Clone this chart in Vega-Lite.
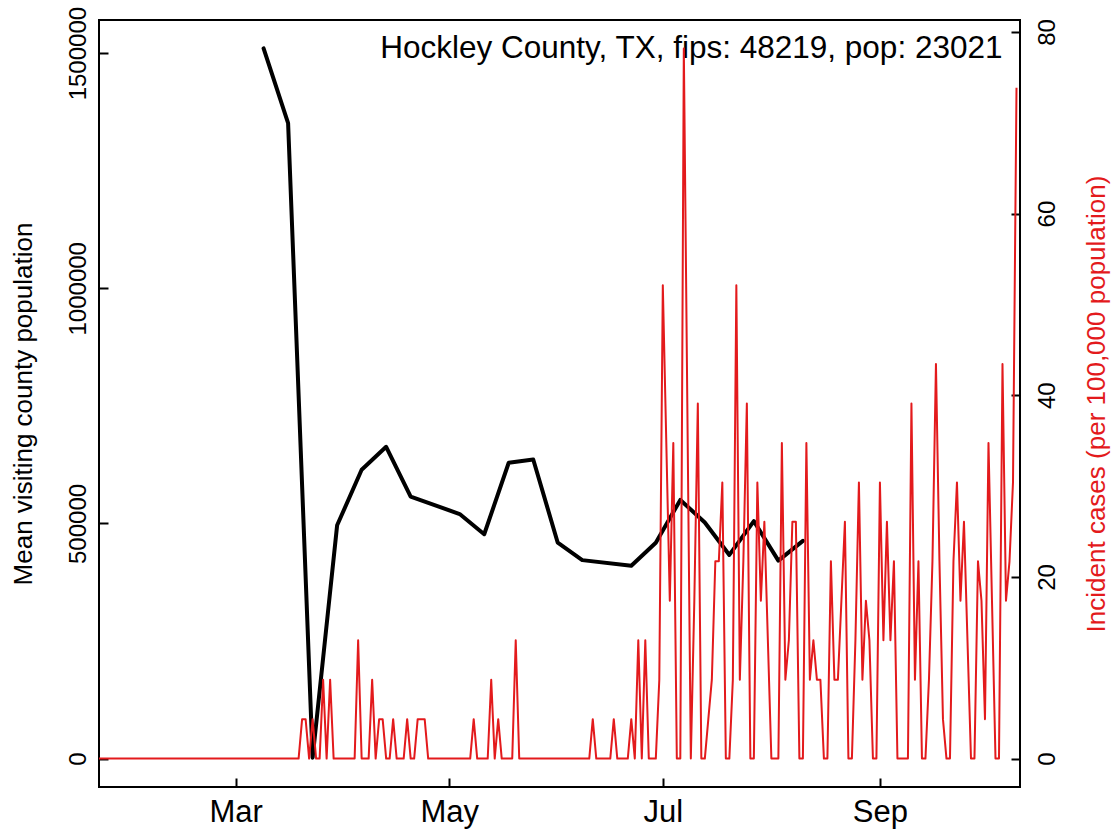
{
  "$schema": "https://vega.github.io/schema/vega-lite/v6.json",
  "width": 921,
  "height": 767,
  "autosize": {"type": "none"},
  "padding": {"left": 99, "top": 20, "right": 99, "bottom": 43},
  "background": "white",
  "config": {
    "font": "Liberation Sans",
    "view": {"stroke": "#000", "strokeWidth": 2},
    "axis": {
      "grid": false, "domain": false,
      "labelFont": "Liberation Sans", "titleFont": "Liberation Sans",
      "labelColor": "#000", "titleColor": "#000",
      "tickColor": "#000", "tickWidth": 2, "tickSize": -9,
      "labelFontSize": 24, "titleFontSize": 26, "titleFontWeight": "normal",
      "labelOverlap": false, "labelFlush": false
    }
  },
  "datasets": {
    "visits": [
      {"date": "2020-03-09", "v": 1510000},
      {"date": "2020-03-16", "v": 1351000},
      {"date": "2020-03-23", "v": 2000},
      {"date": "2020-03-30", "v": 496000},
      {"date": "2020-04-06", "v": 614000},
      {"date": "2020-04-13", "v": 663000},
      {"date": "2020-04-20", "v": 557000},
      {"date": "2020-05-04", "v": 520000},
      {"date": "2020-05-11", "v": 477000},
      {"date": "2020-05-18", "v": 629000},
      {"date": "2020-05-25", "v": 636000},
      {"date": "2020-06-01", "v": 459000},
      {"date": "2020-06-08", "v": 422000},
      {"date": "2020-06-22", "v": 410000},
      {"date": "2020-06-29", "v": 459000},
      {"date": "2020-07-06", "v": 550000},
      {"date": "2020-07-13", "v": 502000},
      {"date": "2020-07-20", "v": 433000},
      {"date": "2020-07-27", "v": 505000},
      {"date": "2020-08-03", "v": 421000},
      {"date": "2020-08-10", "v": 463000}
    ],
    "label": [
      {"date": "2020-10-06", "v": 1490000, "text": "Hockley County, TX, fips: 48219, pop: 23021"}
    ],
    "cases": [
      {"date":"2020-01-22","inc":0},{"date":"2020-01-23","inc":0},{"date":"2020-01-24","inc":0},{"date":"2020-01-25","inc":0},{"date":"2020-01-26","inc":0},{"date":"2020-01-27","inc":0},{"date":"2020-01-28","inc":0},{"date":"2020-01-29","inc":0},{"date":"2020-01-30","inc":0},{"date":"2020-01-31","inc":0},
      {"date":"2020-02-01","inc":0},{"date":"2020-02-02","inc":0},{"date":"2020-02-03","inc":0},{"date":"2020-02-04","inc":0},{"date":"2020-02-05","inc":0},{"date":"2020-02-06","inc":0},{"date":"2020-02-07","inc":0},{"date":"2020-02-08","inc":0},{"date":"2020-02-09","inc":0},{"date":"2020-02-10","inc":0},
      {"date":"2020-02-11","inc":0},{"date":"2020-02-12","inc":0},{"date":"2020-02-13","inc":0},{"date":"2020-02-14","inc":0},{"date":"2020-02-15","inc":0},{"date":"2020-02-16","inc":0},{"date":"2020-02-17","inc":0},{"date":"2020-02-18","inc":0},{"date":"2020-02-19","inc":0},{"date":"2020-02-20","inc":0},
      {"date":"2020-02-21","inc":0},{"date":"2020-02-22","inc":0},{"date":"2020-02-23","inc":0},{"date":"2020-02-24","inc":0},{"date":"2020-02-25","inc":0},{"date":"2020-02-26","inc":0},{"date":"2020-02-27","inc":0},{"date":"2020-02-28","inc":0},{"date":"2020-02-29","inc":0},
      {"date":"2020-03-01","inc":0},{"date":"2020-03-02","inc":0},{"date":"2020-03-03","inc":0},{"date":"2020-03-04","inc":0},{"date":"2020-03-05","inc":0},{"date":"2020-03-06","inc":0},{"date":"2020-03-07","inc":0},{"date":"2020-03-08","inc":0},{"date":"2020-03-09","inc":0},{"date":"2020-03-10","inc":0},
      {"date":"2020-03-11","inc":0},{"date":"2020-03-12","inc":0},{"date":"2020-03-13","inc":0},{"date":"2020-03-14","inc":0},{"date":"2020-03-15","inc":0},{"date":"2020-03-16","inc":0},{"date":"2020-03-17","inc":0},{"date":"2020-03-18","inc":0},{"date":"2020-03-19","inc":0},{"date":"2020-03-20","inc":4.344},
      {"date":"2020-03-21","inc":4.344},{"date":"2020-03-22","inc":0},{"date":"2020-03-23","inc":4.344},{"date":"2020-03-24","inc":0},{"date":"2020-03-25","inc":0},{"date":"2020-03-26","inc":8.688},{"date":"2020-03-27","inc":0},{"date":"2020-03-28","inc":8.688},{"date":"2020-03-29","inc":0},{"date":"2020-03-30","inc":0},
      {"date":"2020-03-31","inc":0},{"date":"2020-04-01","inc":0},{"date":"2020-04-02","inc":0},{"date":"2020-04-03","inc":0},{"date":"2020-04-04","inc":0},{"date":"2020-04-05","inc":13.032},{"date":"2020-04-06","inc":0},{"date":"2020-04-07","inc":0},{"date":"2020-04-08","inc":0},{"date":"2020-04-09","inc":8.688},
      {"date":"2020-04-10","inc":0},{"date":"2020-04-11","inc":4.344},{"date":"2020-04-12","inc":4.344},{"date":"2020-04-13","inc":0},{"date":"2020-04-14","inc":0},{"date":"2020-04-15","inc":4.344},{"date":"2020-04-16","inc":0},{"date":"2020-04-17","inc":0},{"date":"2020-04-18","inc":0},{"date":"2020-04-19","inc":4.344},
      {"date":"2020-04-20","inc":0},{"date":"2020-04-21","inc":0},{"date":"2020-04-22","inc":4.344},{"date":"2020-04-23","inc":4.344},{"date":"2020-04-24","inc":4.344},{"date":"2020-04-25","inc":0},{"date":"2020-04-26","inc":0},{"date":"2020-04-27","inc":0},{"date":"2020-04-28","inc":0},{"date":"2020-04-29","inc":0},
      {"date":"2020-04-30","inc":0},{"date":"2020-05-01","inc":0},{"date":"2020-05-02","inc":0},{"date":"2020-05-03","inc":0},{"date":"2020-05-04","inc":0},{"date":"2020-05-05","inc":0},{"date":"2020-05-06","inc":0},{"date":"2020-05-07","inc":0},{"date":"2020-05-08","inc":4.344},{"date":"2020-05-09","inc":0},
      {"date":"2020-05-10","inc":0},{"date":"2020-05-11","inc":0},{"date":"2020-05-12","inc":0},{"date":"2020-05-13","inc":8.688},{"date":"2020-05-14","inc":0},{"date":"2020-05-15","inc":4.344},{"date":"2020-05-16","inc":0},{"date":"2020-05-17","inc":0},{"date":"2020-05-18","inc":0},{"date":"2020-05-19","inc":0},
      {"date":"2020-05-20","inc":13.032},{"date":"2020-05-21","inc":0},{"date":"2020-05-22","inc":0},{"date":"2020-05-23","inc":0},{"date":"2020-05-24","inc":0},{"date":"2020-05-25","inc":0},{"date":"2020-05-26","inc":0},{"date":"2020-05-27","inc":0},{"date":"2020-05-28","inc":0},{"date":"2020-05-29","inc":0},
      {"date":"2020-05-30","inc":0},{"date":"2020-05-31","inc":0},{"date":"2020-06-01","inc":0},{"date":"2020-06-02","inc":0},{"date":"2020-06-03","inc":0},{"date":"2020-06-04","inc":0},{"date":"2020-06-05","inc":0},{"date":"2020-06-06","inc":0},{"date":"2020-06-07","inc":0},{"date":"2020-06-08","inc":0},
      {"date":"2020-06-09","inc":0},{"date":"2020-06-10","inc":0},{"date":"2020-06-11","inc":4.344},{"date":"2020-06-12","inc":0},{"date":"2020-06-13","inc":0},{"date":"2020-06-14","inc":0},{"date":"2020-06-15","inc":0},{"date":"2020-06-16","inc":0},{"date":"2020-06-17","inc":4.344},{"date":"2020-06-18","inc":0},
      {"date":"2020-06-19","inc":0},{"date":"2020-06-20","inc":0},{"date":"2020-06-21","inc":0},{"date":"2020-06-22","inc":4.344},{"date":"2020-06-23","inc":0},{"date":"2020-06-24","inc":13.032},{"date":"2020-06-25","inc":0},{"date":"2020-06-26","inc":13.032},{"date":"2020-06-27","inc":0},{"date":"2020-06-28","inc":0},
      {"date":"2020-06-29","inc":0},{"date":"2020-06-30","inc":8.688},
      {"date":"2020-07-01","inc":52.127},{"date":"2020-07-02","inc":34.751},{"date":"2020-07-03","inc":17.376},{"date":"2020-07-04","inc":34.751},{"date":"2020-07-05","inc":0},{"date":"2020-07-06","inc":0},{"date":"2020-07-07","inc":78.19},{"date":"2020-07-08","inc":39.095},{"date":"2020-07-09","inc":0},{"date":"2020-07-10","inc":17.376},
      {"date":"2020-07-11","inc":39.095},{"date":"2020-07-12","inc":0},{"date":"2020-07-13","inc":0},{"date":"2020-07-14","inc":4.344},{"date":"2020-07-15","inc":8.688},{"date":"2020-07-16","inc":21.719},{"date":"2020-07-17","inc":21.719},{"date":"2020-07-18","inc":30.407},{"date":"2020-07-19","inc":0},{"date":"2020-07-20","inc":0},
      {"date":"2020-07-21","inc":8.688},{"date":"2020-07-22","inc":52.127},{"date":"2020-07-23","inc":8.688},{"date":"2020-07-24","inc":21.719},{"date":"2020-07-25","inc":39.095},{"date":"2020-07-26","inc":0},{"date":"2020-07-27","inc":0},{"date":"2020-07-28","inc":30.407},{"date":"2020-07-29","inc":17.376},{"date":"2020-07-30","inc":26.063},
      {"date":"2020-07-31","inc":13.032},
      {"date":"2020-08-01","inc":0},{"date":"2020-08-02","inc":0},{"date":"2020-08-03","inc":0},{"date":"2020-08-04","inc":34.751},{"date":"2020-08-05","inc":8.688},{"date":"2020-08-06","inc":13.032},{"date":"2020-08-07","inc":26.063},{"date":"2020-08-08","inc":26.063},{"date":"2020-08-09","inc":0},{"date":"2020-08-10","inc":0},
      {"date":"2020-08-11","inc":34.751},{"date":"2020-08-12","inc":8.688},{"date":"2020-08-13","inc":13.032},{"date":"2020-08-14","inc":8.688},{"date":"2020-08-15","inc":8.688},{"date":"2020-08-16","inc":0},{"date":"2020-08-17","inc":0},{"date":"2020-08-18","inc":21.719},{"date":"2020-08-19","inc":8.688},{"date":"2020-08-20","inc":8.688},
      {"date":"2020-08-21","inc":17.376},{"date":"2020-08-22","inc":26.063},{"date":"2020-08-23","inc":0},{"date":"2020-08-24","inc":0},{"date":"2020-08-25","inc":13.032},{"date":"2020-08-26","inc":30.407},{"date":"2020-08-27","inc":8.688},{"date":"2020-08-28","inc":17.376},{"date":"2020-08-29","inc":13.032},{"date":"2020-08-30","inc":0},
      {"date":"2020-08-31","inc":0},
      {"date":"2020-09-01","inc":30.407},{"date":"2020-09-02","inc":13.032},{"date":"2020-09-03","inc":26.063},{"date":"2020-09-04","inc":13.032},{"date":"2020-09-05","inc":21.719},{"date":"2020-09-06","inc":0},{"date":"2020-09-07","inc":0},{"date":"2020-09-08","inc":0},{"date":"2020-09-09","inc":0},{"date":"2020-09-10","inc":39.095},
      {"date":"2020-09-11","inc":8.688},{"date":"2020-09-12","inc":21.719},{"date":"2020-09-13","inc":0},{"date":"2020-09-14","inc":0},{"date":"2020-09-15","inc":8.688},{"date":"2020-09-16","inc":21.719},{"date":"2020-09-17","inc":43.439},{"date":"2020-09-18","inc":21.719},{"date":"2020-09-19","inc":4.344},{"date":"2020-09-20","inc":0},
      {"date":"2020-09-21","inc":0},{"date":"2020-09-22","inc":21.719},{"date":"2020-09-23","inc":30.407},{"date":"2020-09-24","inc":17.376},{"date":"2020-09-25","inc":26.063},{"date":"2020-09-26","inc":13.032},{"date":"2020-09-27","inc":0},{"date":"2020-09-28","inc":0},{"date":"2020-09-29","inc":21.719},{"date":"2020-09-30","inc":17.376},
      {"date":"2020-10-01","inc":4.344},{"date":"2020-10-02","inc":34.751},{"date":"2020-10-03","inc":17.376},{"date":"2020-10-04","inc":0},{"date":"2020-10-05","inc":0},{"date":"2020-10-06","inc":43.439},{"date":"2020-10-07","inc":17.376},{"date":"2020-10-08","inc":21.719},{"date":"2020-10-09","inc":30.407},{"date":"2020-10-10","inc":73.846}
    ]
  },
  "layer": [
    {
      "layer": [
        {
          "data": {"name": "visits"},
          "mark": {"type": "line", "color": "#000", "strokeWidth": 4, "strokeJoin": "round", "strokeCap": "round"},
          "encoding": {
            "x": {
              "field": "date", "type": "temporal",
              "scale": {"domain": [{"year": 2020, "month": 1, "date": 22, "utc": true}, {"year": 2020, "month": 10, "date": 11, "utc": true}], "nice": false},
              "axis": {
                "values": [{"year": 2020, "month": 3, "date": 1, "utc": true}, {"year": 2020, "month": 5, "date": 1, "utc": true}, {"year": 2020, "month": 7, "date": 1, "utc": true}, {"year": 2020, "month": 9, "date": 1, "utc": true}],
                "labelExpr": "utcFormat(datum.value, '%b')",
                "labelFontSize": 31,
                "title": null, "labelPadding": 19
              }
            },
            "y": {
              "field": "v", "type": "quantitative",
              "scale": {"domain": [-60400, 1570400], "nice": false, "zero": false},
              "axis": {
                "orient": "left",
                "values": [0, 500000, 1000000, 1500000], "format": "d",
                "labelAngle": -90, "labelAlign": "center", "labelBaseline": "alphabetic",
                "labelPadding": 23,
                "title": "Mean visiting county population",
                "titleAngle": -90, "titleBaseline": "bottom", "titlePadding": 30
              }
            }
          }
        },
        {
          "data": {"name": "label"},
          "mark": {"type": "text", "align": "right", "baseline": "alphabetic", "fontSize": 31.5, "font": "Liberation Sans", "color": "#000"},
          "encoding": {
            "x": {"field": "date", "type": "temporal"},
            "y": {"field": "v", "type": "quantitative"},
            "text": {"field": "text"}
          }
        }
      ]
    },
    {
      "data": {"name": "cases"},
      "mark": {"type": "line", "color": "#e31a1c", "strokeWidth": 2, "strokeJoin": "round"},
      "encoding": {
        "x": {"field": "date", "type": "temporal"},
        "y": {
          "field": "inc", "type": "quantitative",
          "scale": {"domain": [-3.128, 81.318], "nice": false, "zero": false},
          "axis": {
            "orient": "right",
            "values": [0, 20, 40, 60, 80],
            "labelAngle": -90, "labelAlign": "center", "labelBaseline": "top",
            "labelPadding": 24,
            "title": "Incident cases (per 100,000 population)",
            "titleColor": "#e31a1c",
            "titleAngle": -90, "titleBaseline": "top", "titlePadding": 24
          }
        }
      }
    }
  ],
  "resolve": {"scale": {"y": "independent"}}
}
